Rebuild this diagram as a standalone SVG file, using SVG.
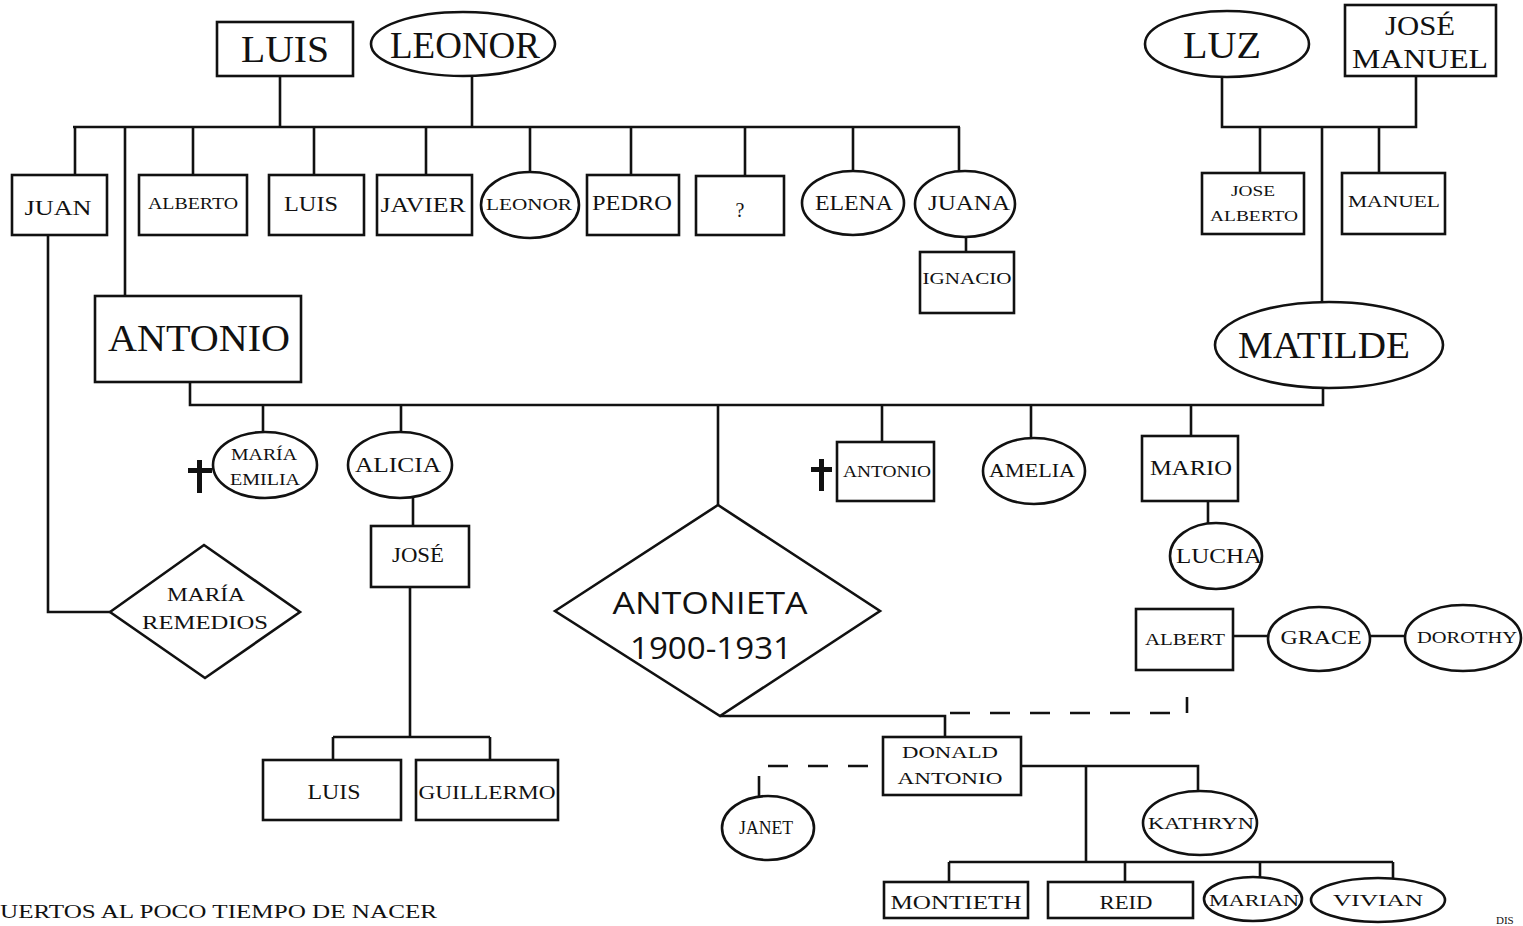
<svg xmlns="http://www.w3.org/2000/svg" width="1523" height="926" viewBox="0 0 1523 926">
<style>
.s{fill:#fff;stroke:#111;stroke-width:2.6}
.c{fill:none;stroke:#111;stroke-width:2.6}
.d{fill:none;stroke:#111;stroke-width:2.6;stroke-dasharray:20 20}
.t{font-family:"Liberation Serif","DejaVu Serif",serif;fill:#111;text-anchor:middle}
.a{font-family:"Open Sans","Noto Sans","Liberation Sans",sans-serif;fill:#111;text-anchor:middle}
.x{fill:#111}
</style>
<rect width="1523" height="926" fill="#fff"/>
<g id="connectors">
<path class="c" d="M280 76V127M472 76V127M73 127H960M75 127V175M125 127V296M193 127V175M314 127V175M426 127V175M530 127V172M631 127V175M745 127V176M853 127V171M959 127V171M966 236V252"/>
<path class="c" d="M48 235V612H110"/>
<path class="c" d="M1222 77V127H1416V76M1260 127V173M1379 127V173M1322 127V302"/>
<path class="c" d="M190 382V405H1323V388M263 405V432M401 405V432M718 405V505M882 405V442M1031 405V438M1191 405V436"/>
<path class="c" d="M413 497V526M410 587V737M333 737H490M333 737V760M490 737V760M1208 501V523"/>
<path class="c" d="M720 716H945V737"/>
<path class="d" d="M950 713H1170"/>
<path class="c" d="M1187 697V713"/>
<path class="d" d="M768 766H875"/>
<path class="c" d="M759 776V797"/>
<path class="c" d="M1021 766H1198V791M1086 766V862M949 862H1393M949 862V882M1125 862V882M1260 862V877M1393 862V879"/>
<path class="c" d="M1233 636H1270M1370 636H1405"/>
</g>
<g id="n-luis"><rect class="s" x="217" y="22" width="136" height="54"/><text class="t" x="285" y="62" font-size="38" textLength="88" lengthAdjust="spacingAndGlyphs">LUIS</text></g>
<g id="n-leonor"><ellipse class="s" cx="463" cy="44" rx="92" ry="32"/><text class="t" x="465" y="58" font-size="37" textLength="150" lengthAdjust="spacingAndGlyphs">LEONOR</text></g>
<g id="n-luz"><ellipse class="s" cx="1227" cy="44" rx="82" ry="33"/><text class="t" x="1222" y="58" font-size="38" textLength="78" lengthAdjust="spacingAndGlyphs">LUZ</text></g>
<g id="n-josemanuel"><rect class="s" x="1345" y="5" width="151" height="71"/><text class="t" x="1420" y="35" font-size="28" textLength="70" lengthAdjust="spacingAndGlyphs">JOSÉ</text><text class="t" x="1420" y="68" font-size="28" textLength="136" lengthAdjust="spacingAndGlyphs">MANUEL</text></g>
<g id="n-juan"><rect class="s" x="12" y="175" width="95" height="60"/><text class="t" x="58" y="215" font-size="22" textLength="67" lengthAdjust="spacingAndGlyphs">JUAN</text></g>
<g id="n-alberto"><rect class="s" x="139" y="175" width="108" height="60"/><text class="t" x="193" y="209" font-size="17" textLength="90" lengthAdjust="spacingAndGlyphs">ALBERTO</text></g>
<g id="n-luis2"><rect class="s" x="269" y="175" width="95" height="60"/><text class="t" x="311" y="211" font-size="21" textLength="54" lengthAdjust="spacingAndGlyphs">LUIS</text></g>
<g id="n-javier"><rect class="s" x="377" y="175" width="95" height="60"/><text class="t" x="423" y="212" font-size="21" textLength="85" lengthAdjust="spacingAndGlyphs">JAVIER</text></g>
<g id="n-leonor2"><ellipse class="s" cx="530" cy="205" rx="49" ry="33"/><text class="t" x="529" y="210" font-size="17" textLength="86" lengthAdjust="spacingAndGlyphs">LEONOR</text></g>
<g id="n-pedro"><rect class="s" x="587" y="175" width="92" height="60"/><text class="t" x="632" y="210" font-size="21" textLength="80" lengthAdjust="spacingAndGlyphs">PEDRO</text></g>
<g id="n-unknown"><rect class="s" x="696" y="176" width="88" height="59"/><text class="t" x="740" y="217" font-size="20">?</text></g>
<g id="n-elena"><ellipse class="s" cx="853" cy="203" rx="51" ry="32"/><text class="t" x="854" y="210" font-size="21" textLength="78" lengthAdjust="spacingAndGlyphs">ELENA</text></g>
<g id="n-juana"><ellipse class="s" cx="965" cy="204" rx="50" ry="33"/><text class="t" x="969" y="210" font-size="21" textLength="82" lengthAdjust="spacingAndGlyphs">JUANA</text></g>
<g id="n-ignacio"><rect class="s" x="920" y="252" width="94" height="61"/><text class="t" x="967" y="284" font-size="16" textLength="89" lengthAdjust="spacingAndGlyphs">IGNACIO</text></g>
<g id="n-josealberto"><rect class="s" x="1202" y="173" width="102" height="61"/><text class="t" x="1253" y="196" font-size="15" textLength="44" lengthAdjust="spacingAndGlyphs">JOSE</text><text class="t" x="1254" y="221" font-size="15" textLength="88" lengthAdjust="spacingAndGlyphs">ALBERTO</text></g>
<g id="n-manuel"><rect class="s" x="1342" y="173" width="103" height="61"/><text class="t" x="1394" y="207" font-size="16" textLength="92" lengthAdjust="spacingAndGlyphs">MANUEL</text></g>
<g id="n-antonio"><rect class="s" x="95" y="296" width="206" height="86"/><text class="t" x="199" y="351" font-size="38" textLength="182" lengthAdjust="spacingAndGlyphs">ANTONIO</text></g>
<g id="n-matilde"><ellipse class="s" cx="1329" cy="345" rx="114" ry="43"/><text class="t" x="1324" y="358" font-size="37" textLength="172" lengthAdjust="spacingAndGlyphs">MATILDE</text></g>
<g id="n-mariaemilia"><ellipse class="s" cx="265" cy="465" rx="52" ry="33"/><text class="t" x="264" y="460" font-size="17" textLength="66" lengthAdjust="spacingAndGlyphs">MARÍA</text><text class="t" x="265" y="485" font-size="17" textLength="70" lengthAdjust="spacingAndGlyphs">EMILIA</text><path class="x" d="M197 460h5v33h-5zM188 468h24v5h-24z"/></g>
<g id="n-alicia"><ellipse class="s" cx="400" cy="465" rx="52" ry="33"/><text class="t" x="398" y="472" font-size="20" textLength="86" lengthAdjust="spacingAndGlyphs">ALICIA</text></g>
<g id="n-jose"><rect class="s" x="371" y="526" width="98" height="61"/><text class="t" x="418" y="562" font-size="20" textLength="52" lengthAdjust="spacingAndGlyphs">JOSÉ</text></g>
<g id="n-mariaremedios"><polygon class="s" points="110,612 204,545 300,612 205,678"/><text class="t" x="206" y="601" font-size="19" textLength="78" lengthAdjust="spacingAndGlyphs">MARÍA</text><text class="t" x="205" y="629" font-size="19" textLength="126" lengthAdjust="spacingAndGlyphs">REMEDIOS</text></g>
<g id="n-antonieta"><polygon class="s" points="555,611 718,505 880,611 720,716"/><text class="a" x="710" y="614" font-size="31" textLength="195" lengthAdjust="spacingAndGlyphs">ANTONIETA</text><text class="a" x="711" y="659" font-size="31" textLength="162" lengthAdjust="spacingAndGlyphs">1900-1931</text></g>
<g id="n-antonio2"><rect class="s" x="837" y="442" width="97" height="59"/><text class="t" x="887" y="477" font-size="16" textLength="88" lengthAdjust="spacingAndGlyphs">ANTONIO</text><path class="x" d="M819 459h5v32h-5zM811 467h21v5h-21z"/></g>
<g id="n-amelia"><ellipse class="s" cx="1034" cy="471" rx="51" ry="33"/><text class="t" x="1032" y="477" font-size="19" textLength="86" lengthAdjust="spacingAndGlyphs">AMELIA</text></g>
<g id="n-mario"><rect class="s" x="1142" y="436" width="96" height="65"/><text class="t" x="1191" y="475" font-size="21" textLength="82" lengthAdjust="spacingAndGlyphs">MARIO</text></g>
<g id="n-lucha"><ellipse class="s" cx="1216" cy="556" rx="46" ry="33"/><text class="t" x="1219" y="563" font-size="20" textLength="86" lengthAdjust="spacingAndGlyphs">LUCHA</text></g>
<g id="n-albert"><rect class="s" x="1136" y="609" width="97" height="61"/><text class="t" x="1185" y="645" font-size="17" textLength="80" lengthAdjust="spacingAndGlyphs">ALBERT</text></g>
<g id="n-grace"><ellipse class="s" cx="1319" cy="639" rx="51" ry="32"/><text class="t" x="1321" y="644" font-size="19" textLength="81" lengthAdjust="spacingAndGlyphs">GRACE</text></g>
<g id="n-dorothy"><ellipse class="s" cx="1463" cy="638" rx="58" ry="33"/><text class="t" x="1467" y="643" font-size="16" textLength="100" lengthAdjust="spacingAndGlyphs">DOROTHY</text></g>
<g id="n-luis3"><rect class="s" x="263" y="760" width="138" height="60"/><text class="t" x="334" y="799" font-size="20" textLength="53" lengthAdjust="spacingAndGlyphs">LUIS</text></g>
<g id="n-guillermo"><rect class="s" x="416" y="760" width="142" height="60"/><text class="t" x="487" y="799" font-size="19" textLength="137" lengthAdjust="spacingAndGlyphs">GUILLERMO</text></g>
<g id="n-donald"><rect class="s" x="883" y="737" width="138" height="58"/><text class="t" x="950" y="758" font-size="17" textLength="96" lengthAdjust="spacingAndGlyphs">DONALD</text><text class="t" x="950" y="784" font-size="17" textLength="105" lengthAdjust="spacingAndGlyphs">ANTONIO</text></g>
<g id="n-janet"><ellipse class="s" cx="768" cy="828" rx="46" ry="32"/><text class="t" x="766" y="834" font-size="19" textLength="54" lengthAdjust="spacingAndGlyphs">JANET</text></g>
<g id="n-kathryn"><ellipse class="s" cx="1200" cy="823" rx="57" ry="32"/><text class="t" x="1201" y="829" font-size="16" textLength="106" lengthAdjust="spacingAndGlyphs">KATHRYN</text></g>
<g id="n-montieth"><rect class="s" x="884" y="882" width="144" height="36"/><text class="t" x="956" y="909" font-size="18" textLength="131" lengthAdjust="spacingAndGlyphs">MONTIETH</text></g>
<g id="n-reid"><rect class="s" x="1048" y="882" width="145" height="36"/><text class="t" x="1126" y="909" font-size="18" textLength="53" lengthAdjust="spacingAndGlyphs">REID</text></g>
<g id="n-marian"><ellipse class="s" cx="1253" cy="899" rx="49" ry="22"/><text class="t" x="1254" y="906" font-size="16" textLength="90" lengthAdjust="spacingAndGlyphs">MARIAN</text></g>
<g id="n-vivian"><ellipse class="s" cx="1378" cy="900" rx="67" ry="22"/><text class="t" x="1378" y="906" font-size="16" textLength="90" lengthAdjust="spacingAndGlyphs">VIVIAN</text></g>
<text class="t" x="0" y="918" font-size="19" style="text-anchor:start" textLength="437" lengthAdjust="spacingAndGlyphs">UERTOS AL POCO TIEMPO DE NACER</text>
<text class="t" x="1496" y="924" font-size="11" style="text-anchor:start">DIS</text>
</svg>
